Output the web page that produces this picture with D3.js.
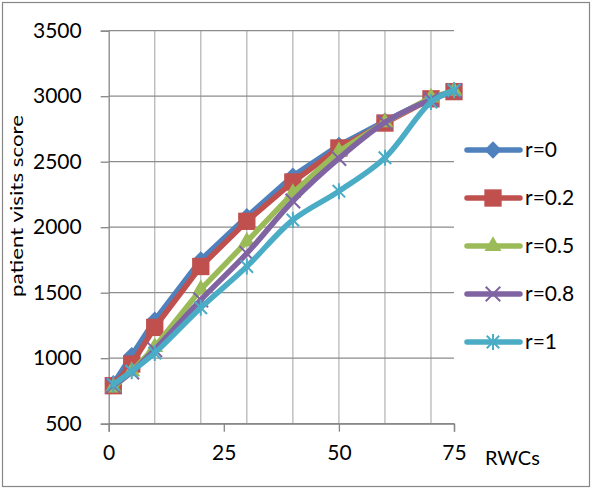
<!DOCTYPE html>
<html>
<head>
<meta charset="utf-8">
<script src="https://cdn.jsdelivr.net/npm/d3@7"></script>
<style>
	body { margin: 0; background: #fff; }
	text { font-family: Lato, 'Liberation Sans', sans-serif; fill: #000; }
</style>
</head>
<body>
<div class="chart"></div>
<script>
	// data
	let xValues = [1, 5, 10, 20, 30, 40, 50, 60, 70, 75];
	let seriesNames = ['r=0', 'r=0.2', 'r=0.5', 'r=0.8', 'r=1'];
	let r0 = [805, 1020, 1290, 1750, 2080, 2390, 2625, 2810, 2985, 3035];
	let r02 = [790, 955, 1235, 1700, 2045, 2345, 2605, 2795, 2980, 3035];
	let r05 = [775, 900, 1085, 1525, 1890, 2260, 2580, 2800, 2990, 3040];
	let r08 = [790, 895, 1065, 1445, 1800, 2200, 2525, 2800, 2975, 3040];
	let r1 = [800, 900, 1040, 1385, 1700, 2055, 2275, 2530, 2955, 3045];
	let xTicks = [0, 25, 50, 75];
	let xGrid = [10, 20, 30, 40, 50, 60, 70];
	let yTicks = [500, 1000, 1500, 2000, 2500, 3000, 3500];

	let colors = ['#4F81BD', '#C0504D', '#9BBB59', '#8064A2', '#4BACC6'];
	let shapes = ['diamond', 'square', 'triangle', 'times', 'star'];
	let allValues = [r0, r02, r05, r08, r1];

	let width = 593, height = 490;
	let plotLeft = 108.7, plotRight = 454, plotTop = 30.7, plotBottom = 423.7;

	let svg = d3.select('.chart').append('svg')
		.attr('width', width)
		.attr('height', height);

	// outer frame
	svg.append('rect')
		.attr('x', 2.5).attr('y', 2.5)
		.attr('width', 587).attr('height', 484)
		.attr('fill', 'none')
		.attr('stroke', '#868686')
		.attr('stroke-width', 1.2);

	let xScale = d3.scaleLinear().domain([0, 75]).range([plotLeft, plotRight]);
	let yScale = d3.scaleLinear().domain([500, 3500]).range([plotBottom, plotTop]);

	// vertical grid
	svg.append('g').selectAll('line')
		.data(xGrid).enter().append('line')
		.attr('x1', d => xScale(d)).attr('x2', d => xScale(d))
		.attr('y1', plotTop).attr('y2', plotBottom)
		.attr('stroke', '#b7b7b7')
		.attr('stroke-width', 1.3);

	// horizontal grid
	svg.append('g').selectAll('line')
		.data(yTicks).enter().append('line')
		.attr('x1', plotLeft).attr('x2', plotRight)
		.attr('y1', d => yScale(d)).attr('y2', d => yScale(d))
		.attr('stroke', '#8c8c8c')
		.attr('stroke-width', 1.3);

	//y轴
	let yAxis = svg.append('g')
		.attr('transform', 'translate(' + plotLeft + ',0)')
		.call(d3.axisLeft(yScale).tickValues(yTicks).tickFormat(d3.format('d')).tickSize(8).tickPadding(19));
	//x轴
	let xAxis = svg.append('g')
		.attr('transform', 'translate(0,' + plotBottom + ')')
		.call(d3.axisBottom(xScale).tickValues(xTicks).tickFormat(d3.format('d')).tickSize(8).tickPadding(13));

	[yAxis, xAxis].forEach(a => {
		a.select('.domain').attr('stroke', '#868686').attr('stroke-width', 1.3);
		a.selectAll('.tick line').attr('stroke', '#868686').attr('stroke-width', 1.3);
		a.selectAll('text').attr('font-size', 21).attr('font-family', 'Lato, sans-serif').attr('fill', '#000');
	});

	svg.append('text')
		.attr('x', 485).attr('y', 465)
		.attr('font-size', 20)
		.text('RWCs');

	svg.append('text')
		.attr('transform', 'translate(23,206) rotate(-90)')
		.attr('text-anchor', 'middle')
		.attr('font-size', 18)
		.attr('textLength', 182)
		.attr('lengthAdjust', 'spacingAndGlyphs')
		.text('patient visits score');

	// vertical bar + x, like the spreadsheet star marker
	let symbolStar = {
		draw(context, size) {
			let r = Math.sqrt(size) * 0.5;
			let s = r * 0.78;
			context.moveTo(0, -r); context.lineTo(0, r);
			context.moveTo(-s, -s); context.lineTo(s, s);
			context.moveTo(-s, s); context.lineTo(s, -s);
		}
	};

	function marker(shape, color) {
		if (shape === 'diamond') return { d: d3.symbol(d3.symbolSquare, 150)(), rot: 45, fill: color, stroke: 'none' };
		if (shape === 'square') return { d: d3.symbol(d3.symbolSquare, 300)(), rot: 0, fill: color, stroke: 'none' };
		if (shape === 'triangle') return { d: d3.symbol(d3.symbolTriangle, 125)(), rot: 0, fill: color, stroke: 'none' };
		if (shape === 'times') return { d: d3.symbol(d3.symbolTimes, 140)(), rot: 0, fill: 'none', stroke: color };
		return { d: d3.symbol(symbolStar, 256)(), rot: 0, fill: 'none', stroke: color };
	}

	allValues.forEach((vals, i) => {
		let pts = xValues.map((x, j) => ({ x: x, y: vals[j] }));
		let line = d3.line()
			.x(d => xScale(d.x))
			.y(d => yScale(d.y))
			.curve(i >= 3 ? d3.curveCatmullRom : d3.curveLinear);
		let g = svg.append('g');
		g.append('path')
			.datum(pts)
			.attr('fill', 'none')
			.attr('stroke', colors[i])
			.attr('stroke-width', 5.5)
			.attr('stroke-linejoin', 'round')
			.attr('stroke-linecap', 'round')
			.attr('d', line);
		let m = marker(shapes[i], colors[i]);
		g.selectAll('path.mk')
			.data(pts).enter().append('path')
			.attr('class', 'mk')
			.attr('d', m.d)
			.attr('transform', d => 'translate(' + xScale(d.x) + ',' + yScale(d.y) + ') rotate(' + m.rot + ')')
			.attr('fill', m.fill)
			.attr('stroke', m.stroke)
			.attr('stroke-width', 2);
	});

	// legend
	let legend = svg.append('g');
	seriesNames.forEach((name, i) => {
		let y = 150 + i * 48;
		let item = legend.append('g').attr('transform', 'translate(0,' + y + ')');
		item.append('line')
			.attr('x1', 467).attr('x2', 520)
			.attr('y1', 0).attr('y2', 0)
			.attr('stroke', colors[i])
			.attr('stroke-width', 5.5)
			.attr('stroke-linecap', 'round');
		let m = marker(shapes[i], colors[i]);
		item.append('path')
			.attr('d', m.d)
			.attr('transform', 'translate(493,0) rotate(' + m.rot + ')')
			.attr('fill', m.fill)
			.attr('stroke', m.stroke)
			.attr('stroke-width', 2);
		item.append('text')
			.attr('x', 525).attr('y', 0)
			.attr('dy', '0.35em')
			.attr('font-size', 21)
			.text(name);
	});
</script>
</body>
</html>
